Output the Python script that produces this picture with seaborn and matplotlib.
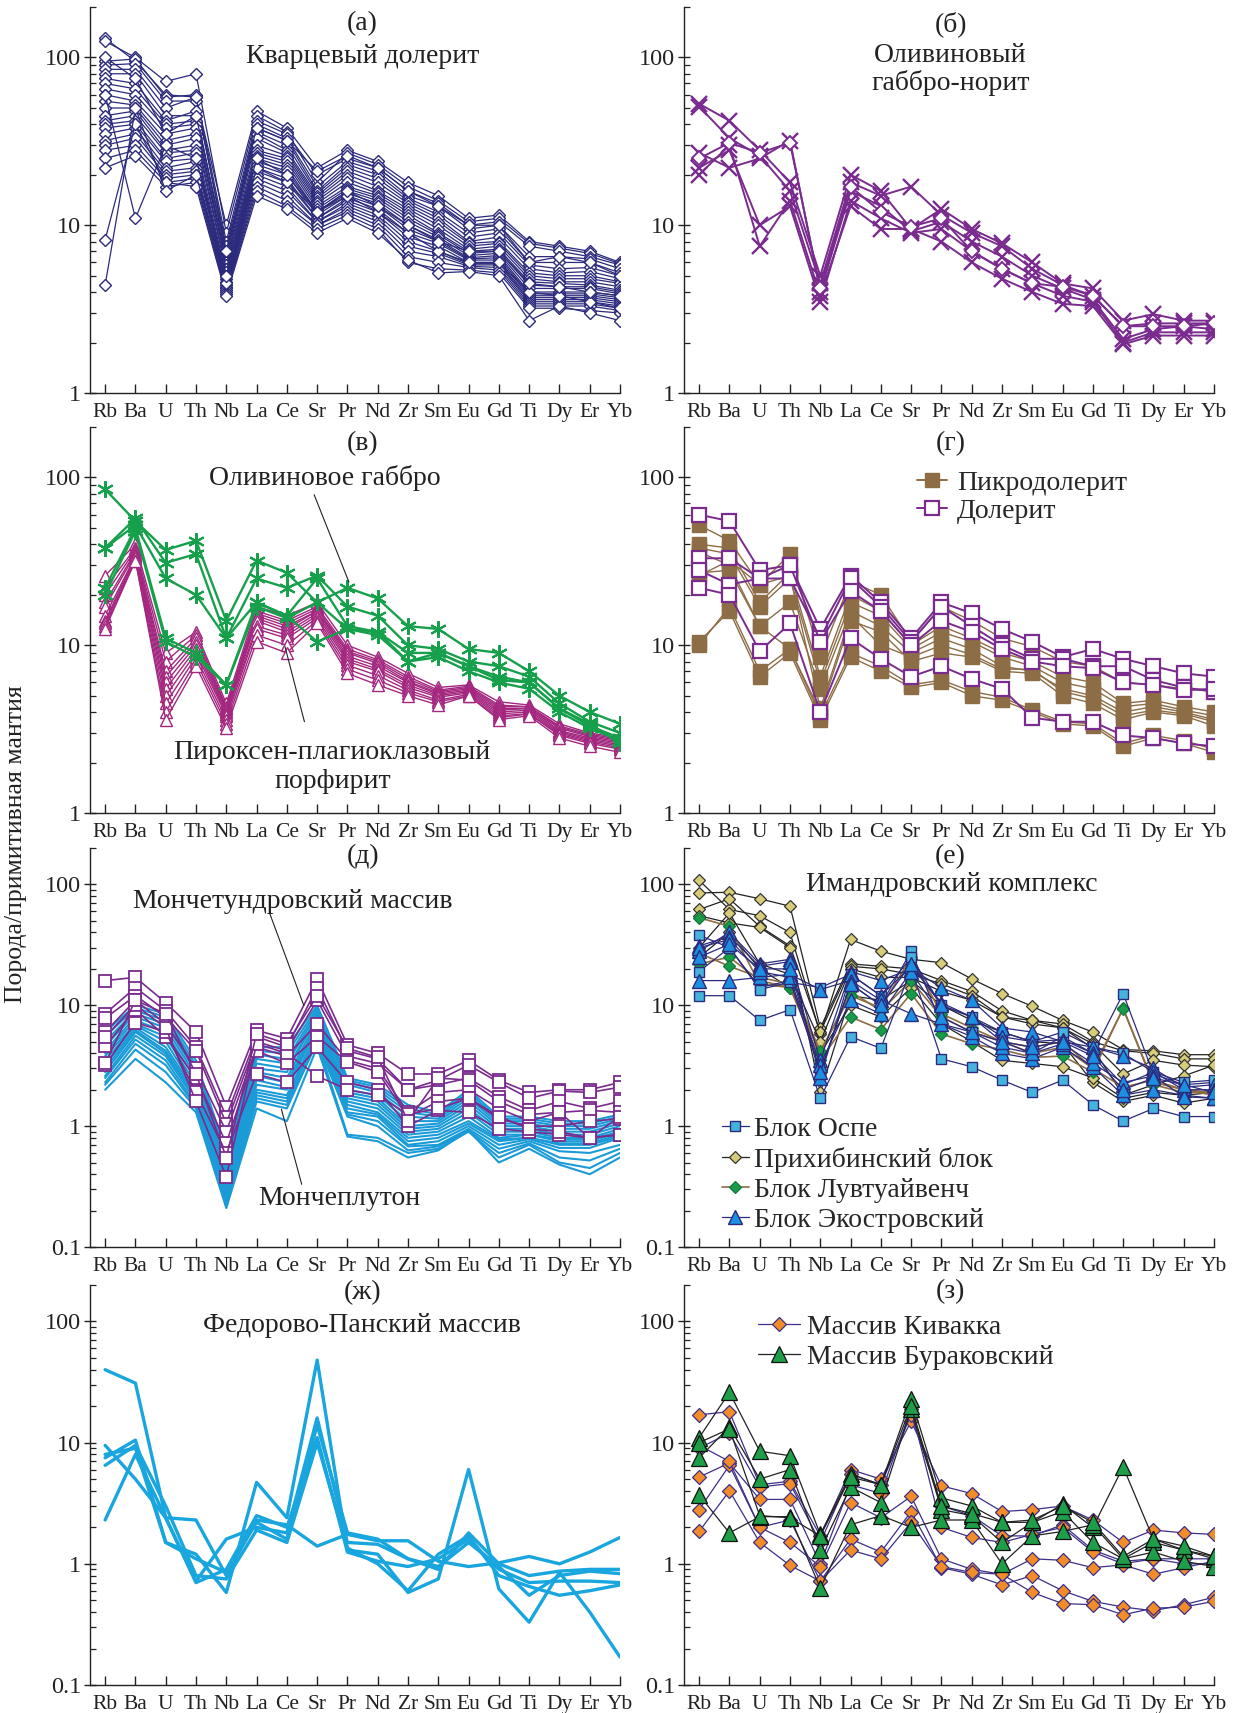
import pandas as pd
import matplotlib
matplotlib.use("Agg")
import matplotlib.pyplot as plt
from matplotlib.lines import Line2D
from matplotlib.ticker import FixedLocator, FixedFormatter, LogLocator, NullFormatter
import seaborn as sns

sns.set_style("ticks")
plt.rcParams["font.family"] = "serif"
plt.rcParams["font.serif"] = ["Liberation Serif", "DejaVu Serif"]

elements = ["Rb", "Ba", "U", "Th", "Nb", "La", "Ce", "Sr", "Pr", "Nd",
            "Zr", "Sm", "Eu", "Gd", "Ti", "Dy", "Er", "Yb"]

# (а) quartz dolerite
quartz_dolerite = [
    [130, 95, 60, 58, 10, 48, 38, 22, 28, 24, 18, 15, 11, 11.5, 8, 7.5, 7, 6],
    [125, 100, 72, 80, 9, 45, 36, 18, 27, 23, 17, 14, 10.5, 11, 7.8, 7.3, 6.8, 5.9],
    [95, 98, 58, 60, 8, 42, 35, 20, 25, 22, 16, 13.5, 10, 10.5, 7.5, 7, 6.5, 5.8],
    [90, 92, 55, 55, 7.5, 40, 33, 17, 24, 21, 15, 13, 9.5, 10, 6.5, 6.5, 6.3, 5.5],
    [85, 85, 50, 58, 7, 38, 32, 16, 23, 20, 14.5, 12, 9, 9.5, 6, 6, 6, 5.2],
    [80, 80, 45, 45, 6.8, 36, 30, 15.5, 22, 19, 14, 11.5, 8.5, 9, 5.8, 5.5, 5.6, 5],
    [75, 70, 42, 48, 6.5, 35, 28, 15, 21, 18, 13.5, 11, 8, 8.5, 5.5, 5.2, 5.3, 4.8],
    [70, 65, 40, 42, 6.2, 33, 27, 14.5, 20, 17, 13, 10.5, 7.8, 8, 5.2, 5, 5, 4.6],
    [65, 60, 38, 40, 6, 30, 26, 14, 19, 16, 12.5, 10, 7.5, 7.8, 5, 4.8, 4.8, 4.5],
    [60, 55, 35, 38, 5.8, 28, 25, 13.5, 18, 15.5, 12, 9.5, 7.2, 7.5, 4.8, 4.6, 4.6, 4.3],
    [55, 52, 32, 35, 5.5, 27, 24, 13, 17, 15, 11.5, 9, 7, 7.2, 4.6, 4.5, 4.4, 4.1],
    [50, 50, 30, 33, 5.3, 26, 23, 12.5, 16.5, 14.5, 11, 8.8, 6.8, 7, 4.4, 4.3, 4.3, 4],
    [45, 48, 28, 30, 5, 25, 22, 12, 16, 14, 10.5, 8.5, 6.6, 6.8, 4.2, 4.2, 4.2, 3.9],
    [42, 45, 27, 28, 4.8, 24, 21, 12, 15.5, 13.5, 10, 8.2, 6.4, 6.6, 4, 4, 4, 3.8],
    [40, 42, 25, 27, 4.6, 23, 20, 11.5, 15, 13, 9.5, 8, 6.3, 6.4, 3.9, 3.9, 3.9, 3.7],
    [38, 40, 24, 25, 4.5, 22, 19, 11, 14.5, 12.5, 9, 7.8, 6.2, 6.2, 3.8, 3.8, 3.8, 3.6],
    [35, 38, 22, 24, 4.4, 21, 18, 11, 14, 12, 8.5, 7.5, 6, 6, 3.7, 3.7, 3.7, 3.5],
    [32, 35, 21, 22, 4.3, 20, 17, 10.5, 13.5, 11.5, 8, 7, 5.9, 5.9, 3.6, 3.6, 3.6, 3.4],
    [30, 33, 20, 21, 4.2, 19, 16, 10.5, 13, 11, 7.5, 6.8, 5.8, 5.8, 3.5, 3.5, 3.5, 3.3],
    [28, 30, 19, 20, 4.1, 18, 15, 10, 12.5, 10.5, 7, 6.5, 5.7, 5.6, 3.4, 3.4, 3.4, 3.2],
    [25, 28, 18, 19, 4, 17, 14, 10, 12, 10, 6.5, 6, 5.6, 5.4, 3.3, 3.3, 3.3, 3.1],
    [22, 26, 17, 18, 3.9, 16, 13, 9.5, 11.5, 9.5, 6, 5.5, 5.4, 5.2, 3.2, 3.2, 3.1, 3],
    [8.2, 40, 18, 17, 3.8, 15, 12.5, 9, 11, 9, 6.2, 5.2, 5.3, 5, 2.7, 3.3, 3, 2.7],
    [4.4, 50, 16, 20, 4.5, 22, 18, 12, 15, 12, 9, 7, 6, 6, 4, 3.8, 3.5, 3.2],
    [60, 11, 30, 25, 5, 25, 20, 12, 16, 13, 10, 8, 7, 7, 4.5, 4.3, 4, 3.8],
    [100, 75, 35, 45, 7, 38, 32, 21, 26, 22, 16, 13, 10, 10, 6, 6.5, 6, 5],
]

# (б) olivine gabbro-norite
gabbronorite_x = [
    [53, 42, 28, 18, 5, 20, 16, 9.5, 12.5, 9.5, 7.8, 6, 4.5, 4.2, 2.7, 2.95, 2.7, 2.7],
    [51, 33, 26, 16, 4.5, 18, 15, 17, 11.5, 9, 7.5, 5.5, 4.4, 3.8, 2.5, 2.6, 2.6, 2.6],
    [27, 22, 25, 32, 4, 16, 13, 9.2, 10.5, 8, 6.5, 5, 4.2, 3.6, 2.1, 2.4, 2.5, 2.4],
    [22, 28, 10, 13, 3.5, 14, 11, 9, 9.5, 7, 5.5, 4.5, 3.8, 3.5, 2.0, 2.3, 2.3, 2.3],
    [20, 30, 7.5, 14, 3.8, 13, 9.5, 9.5, 8, 6, 4.8, 4, 3.4, 3.3, 1.95, 2.2, 2.2, 2.2],
]
gabbronorite_d = [
    [25, 31, 27, 31, 4.2, 17, 12, 9.8, 11, 7, 5.5, 4.5, 4.3, 3.8, 2.5, 2.5, 2.5, 2.6],
]

# (в) olivine gabbro and pyroxene-plagioclase porphyrite
olivine_gabbro = [
    [85, 55, 37, 42, 14, 32, 27, 18, 22, 19, 13, 12.5, 9.5, 9, 7, 5, 4, 3.4],
    [38, 57, 31, 35, 11, 25, 22, 26, 17, 15, 10, 9.5, 8, 7.5, 6.5, 4.5, 3.5, 3],
    [38, 52, 25, 20, 11, 18, 15, 25, 13, 12, 9, 9, 7.5, 6.5, 6, 4.2, 3.3, 2.8],
    [22, 50, 11, 9, 5.8, 18, 15, 10.5, 12.5, 12, 8, 8.5, 7, 6, 5.5, 4, 3.2, 2.7],
    [20, 48, 10.5, 8.5, 5.8, 17, 14.5, 18, 12.5, 11.5, 8, 9, 7.5, 6.2, 6, 4.2, 3.4, 2.6],
]
porphyrite = [
    [26, 40, 9, 12, 4.5, 17, 15, 18, 10, 8.5, 6.8, 5.6, 5.8, 4.6, 4.4, 3.4, 3.0, 2.8],
    [22, 38, 8, 11.5, 4.3, 16, 14, 17, 9.5, 8.2, 6.5, 5.4, 5.7, 4.4, 4.3, 3.3, 2.95, 2.75],
    [20, 37, 7, 11, 4.2, 15.5, 13.5, 16.5, 9.2, 8, 6.3, 5.3, 5.6, 4.3, 4.3, 3.25, 2.9, 2.7],
    [18, 36, 6.5, 10.5, 4.1, 15, 13, 16, 9, 7.8, 6.1, 5.2, 5.5, 4.2, 4.2, 3.2, 2.85, 2.65],
    [17, 35, 6, 10, 4, 14.5, 12.5, 16, 8.6, 7.5, 6, 5.1, 5.4, 4.1, 4.2, 3.1, 2.8, 2.6],
    [15, 34, 5.5, 9.5, 3.9, 14, 12, 15.5, 8.3, 7.2, 5.8, 5, 5.3, 4, 4.1, 3.05, 2.75, 2.55],
    [14, 34, 5, 9, 3.8, 13, 11.5, 15, 8, 7, 5.6, 4.9, 5.2, 3.9, 4, 3.0, 2.7, 2.5],
    [13.5, 33, 4.5, 8.5, 3.6, 12.5, 11, 14.5, 7.6, 6.6, 5.4, 4.7, 5.1, 3.8, 3.9, 2.95, 2.65, 2.45],
    [13, 32, 4, 8, 3.4, 11.5, 10, 14, 7.2, 6.2, 5.2, 4.6, 5.0, 3.7, 3.9, 2.9, 2.6, 2.4],
    [12.5, 32, 3.6, 7.5, 3.2, 10.5, 9, 13.5, 6.8, 5.8, 5, 4.4, 5.0, 3.6, 3.8, 2.8, 2.5, 2.3],
]

# (г) picrodolerite and dolerite
picrodolerite = [
    [52, 42, 23, 35, 8.5, 24, 20, 10.5, 17, 14, 11, 9.8, 8, 7.5, 6, 5.8, 5.5, 5.3],
    [40, 38, 18, 27, 6.5, 20, 16, 10, 13, 11, 9, 8, 6.5, 6, 4.5, 4.7, 4.3, 4],
    [38, 35, 17, 25, 6, 18, 15, 9.5, 12, 10.5, 8.5, 7.5, 6, 5.5, 4.3, 4.5, 4.1, 3.8],
    [36, 30, 13, 18, 5.5, 16, 13, 9, 11, 9.5, 7.5, 7, 5.5, 5, 4, 4.3, 4, 3.6],
    [27, 28, 13, 9.5, 4, 14, 12, 8, 9, 8.5, 7, 6.8, 5, 4.5, 3.6, 4, 3.8, 3.3],
    [26, 32, 23, 26, 4.2, 15, 10, 8.5, 10, 8.8, 7.2, 7.2, 5.3, 4.8, 3.8, 4.1, 3.9, 3.5],
    [10.5, 16, 6.5, 9, 3.6, 8.5, 7, 5.6, 6, 5, 4.7, 4, 3.4, 3.3, 2.5, 2.8, 2.6, 2.3],
    [10, 17, 7, 9.5, 3.8, 9, 7.5, 5.8, 6.2, 5.3, 4.9, 4.1, 3.5, 3.4, 2.6, 2.9, 2.7, 2.4],
]
dolerite = [
    [60, 55, 28, 30, 12.5, 26, 18, 11, 18, 15.5, 12.5, 10.5, 8.5, 9.5, 8.3, 7.5, 6.8, 6.5],
    [33, 33, 25, 25, 11, 25, 17, 10.5, 17, 13, 10, 8.3, 8.3, 7.5, 7.5, 6.2, 5.6, 5.3],
    [28, 23, 25, 30, 10.5, 21, 16, 10, 14, 12, 9.5, 8, 7.5, 7.3, 6, 5.8, 5.4, 5.5],
    [22, 20, 9.2, 13.5, 4, 11, 8.3, 6.5, 7.5, 6.3, 5.5, 3.7, 3.5, 3.5, 2.9, 2.8, 2.6, 2.5],
]

# (д) Monchetundra massif and Monchepluton
monchetundra = [
    [16, 17, 10.5, 6, 1.45, 6.2, 5.3, 16.5, 4.7, 4.0, 2.7, 2.7, 3.5, 2.4, 1.9, 2.0, 2.0, 2.3],
    [8.5, 14, 9, 4.5, 1.2, 5.5, 4.5, 14, 4.2, 3.6, 2.0, 2.4, 3.2, 2.3, 1.7, 1.95, 1.9, 2.1],
    [7.8, 12, 8, 4.2, 1.05, 5, 4.2, 11, 3.8, 3.3, 2.0, 2.2, 2.5, 1.75, 1.35, 1.6, 1.4, 1.6],
    [6, 11, 7, 3, 0.9, 4.5, 3.8, 7, 3.5, 3.0, 1.3, 1.9, 2.0, 1.4, 1.1, 1.3, 1.35, 1.3],
    [4.6, 9.2, 5.5, 2.5, 0.72, 4.2, 3.3, 5.5, 3.4, 2.8, 1.2, 1.6, 1.7, 1.15, 1.0, 1.0, 1.1, 1.15],
    [3.2, 7.2, 6, 1.9, 0.6, 2.7, 2.3, 4.5, 2.3, 2.0, 1.0, 1.35, 1.3, 0.95, 0.9, 0.85, 0.8, 0.85],
    [5.5, 10, 6.5, 1.6, 0.38, 4.8, 4.0, 2.6, 2.0, 1.8, 1.25, 1.4, 1.7, 1.2, 0.95, 0.9, 0.8, 0.85],
    [3.3, 11, 8.5, 2.7, 0.55, 5.8, 4.8, 12, 4.4, 3.7, 1.1, 2.5, 2.4, 1.6, 1.25, 1.3, 0.8, 1.2],
]
monchepluton = [
    [6, 10, 8.5, 3.5, 0.6, 4.5, 4.5, 10, 2.5, 2.2, 1.5, 1.3, 2.0, 1.2, 1.2, 1.1, 1.1, 1.25],
    [5.5, 9.5, 8, 3.2, 0.55, 4.2, 4.0, 9.5, 2.4, 2.1, 1.4, 1.25, 1.9, 1.15, 1.15, 1.05, 1.05, 1.2],
    [5, 9, 7.5, 3.0, 0.5, 3.9, 3.6, 9, 2.3, 2.0, 1.3, 1.2, 1.8, 1.1, 1.1, 1.0, 1.0, 1.15],
    [4.6, 8.5, 7, 2.8, 0.47, 3.6, 3.3, 8.5, 2.2, 1.9, 1.2, 1.15, 1.7, 1.05, 1.05, 0.95, 0.95, 1.1],
    [4.2, 8, 6.5, 2.6, 0.44, 3.3, 3.0, 8, 2.0, 1.8, 1.1, 1.1, 1.6, 1.0, 1.0, 0.9, 0.9, 1.05],
    [4.0, 7.5, 6, 2.4, 0.41, 3.0, 2.8, 8, 1.9, 1.7, 1.0, 1.05, 1.5, 0.95, 0.95, 0.85, 0.85, 1.0],
    [3.8, 7, 5.5, 2.2, 0.38, 2.8, 2.5, 7.5, 1.8, 1.6, 0.95, 1.0, 1.4, 0.9, 0.9, 0.8, 0.8, 0.95],
    [3.5, 6.8, 5, 2.0, 0.35, 2.6, 2.3, 7, 1.7, 1.5, 0.9, 0.95, 1.3, 0.85, 0.85, 0.78, 0.78, 0.9],
    [3.2, 6.5, 4.5, 1.9, 0.33, 2.4, 2.1, 7, 1.6, 1.4, 0.85, 0.9, 1.2, 0.8, 0.85, 0.75, 0.75, 0.88],
    [3.0, 6.2, 4.2, 1.8, 0.31, 2.2, 2.0, 6.5, 1.5, 1.3, 0.8, 0.85, 1.1, 0.78, 0.8, 0.72, 0.72, 0.85],
    [2.8, 6, 4.0, 1.7, 0.29, 2.0, 1.8, 6, 1.4, 1.25, 0.75, 0.8, 1.05, 0.75, 0.8, 0.7, 0.7, 0.82],
    [2.6, 5.6, 3.8, 1.6, 0.27, 1.9, 1.7, 6, 1.3, 1.2, 0.7, 0.75, 1.0, 0.7, 0.78, 0.66, 0.66, 0.8],
    [2.5, 5.2, 3.5, 1.5, 0.25, 1.8, 1.6, 5.5, 1.25, 1.1, 0.68, 0.7, 0.95, 0.65, 0.75, 0.62, 0.6, 0.7],
    [2.3, 4.8, 3.2, 1.45, 0.23, 1.7, 1.5, 5, 1.2, 1.0, 0.63, 0.68, 0.92, 0.6, 0.72, 0.55, 0.52, 0.65],
    [2.2, 4.3, 2.8, 1.4, 0.22, 1.6, 1.4, 5, 0.85, 0.8, 0.6, 0.65, 0.9, 0.55, 0.7, 0.5, 0.45, 0.6],
    [2.0, 3.6, 2.3, 1.3, 0.21, 1.4, 1.1, 4.5, 0.82, 0.75, 0.55, 0.63, 0.92, 0.5, 0.65, 0.48, 0.4, 0.55],
]

# (е) Imandra complex blocks
block_ospe = [
    [12, 12, 7.5, 9.2, 1.7, 5.5, 4.4, 20, 3.6, 3.1, 2.4, 1.9, 2.4, 1.5, 1.1, 1.4, 1.2, 1.2],
    [38, 30, 14, 16, 2.8, 15, 10, 28, 7, 6, 5, 4, 5.5, 4, 12.5, 2.7, 2.2, 2.3],
    [19, 30, 13.5, 15.5, 14, 18, 12, 25, 10, 8, 6, 5, 6, 4.5, 4, 2.8, 2.3, 2.4],
]
block_prikhibinsky = [
    [108, 62, 55, 40, 5.8, 35, 28, 24, 22.5, 16.5, 12.5, 9.8, 7.5, 6, 4.3, 4.2, 3.9, 3.9],
    [85, 86, 76, 66, 6.5, 22, 21, 20, 16, 13, 9, 7.5, 7, 5, 4.2, 4, 3.6, 3.6],
    [62, 76, 45, 31, 6, 21, 20, 18, 15, 12, 8, 7, 6.5, 4.8, 2.7, 3.5, 3.2, 3.1],
    [55, 48, 44, 30, 1.9, 12, 11, 16, 10, 7.5, 6, 5, 4.8, 2.3, 1.6, 1.8, 1.55, 1.7],
    [30, 58, 22, 18, 5, 20, 17, 17, 13, 11, 8, 7.5, 6.5, 4.4, 1.8, 2.2, 2.6, 3.2],
    [25, 40, 20, 14, 4, 10, 8, 14, 7, 5, 3.5, 3.3, 3.1, 2.5, 1.7, 1.9, 1.8, 1.9],
]
block_luvtuaivench = [
    [53, 45, 15, 14, 3.5, 8, 6.3, 12.5, 5.8, 4.8, 4.3, 3.7, 3.8, 2.8, 9.5, 2.2, 1.9, 1.9],
    [22, 25, 16, 14, 4, 13, 9, 16, 8, 6, 5, 4, 4.5, 3, 9.3, 2.3, 2.0, 1.9],
    [27, 21, 17, 15, 4.2, 12, 9.5, 25, 8.5, 6.5, 5, 4.5, 5, 3, 2.1, 2.4, 2.0, 1.8],
]
block_ekostrovsky = [
    [28, 40, 22, 24, 3.5, 19, 16, 20, 14, 11, 6.5, 6, 5, 4.5, 3.8, 3, 2.1, 2.2],
    [31, 37, 21, 23, 2.5, 18, 12, 21, 10.5, 8, 5.5, 5, 5.2, 4, 2.2, 2.8, 2.0, 2.0],
    [16, 16, 17, 18, 13.5, 16, 11, 8.5, 7, 5.5, 4, 3.6, 4.5, 3.1, 1.8, 2.0, 1.8, 1.7],
    [30, 35, 19, 17, 3.2, 11, 8.5, 19, 8, 6, 4.5, 4, 4.8, 3.3, 2.3, 2.6, 1.75, 1.7],
    [25, 32, 20, 20, 2.8, 15, 10, 22, 10, 8, 5, 4.5, 5, 3.8, 2.0, 2.5, 2.2, 1.9],
]

# (ж) Fedorovo-Pansky massif
fedorovo_pansky = [
    [40, 31, 2.4, 2.3, 0.8, 2.3, 2.1, 1.4, 1.75, 1.55, 1.55, 1.05, 0.95, 1.02, 1.15, 1.0, 1.25, 1.65],
    [8, 9, 1.5, 1.2, 0.58, 4.7, 2.4, 48, 1.3, 1.2, 0.58, 0.75, 6, 0.62, 0.33, 0.85, 0.4, 0.17],
    [2.3, 8, 2.4, 0.72, 1.6, 2.0, 1.8, 16, 1.5, 1.45, 1.1, 0.9, 1.8, 1.0, 0.8, 0.87, 0.9, 0.9],
    [9.5, 5, 2.4, 0.7, 0.9, 2.5, 2.0, 11, 1.25, 1.05, 0.95, 1.1, 1.6, 0.9, 0.7, 0.72, 0.72, 0.7],
    [7.5, 10.5, 1.5, 1.1, 0.85, 2.2, 1.6, 14, 1.8, 1.6, 1.1, 0.95, 1.5, 0.95, 0.55, 0.8, 0.87, 0.83],
    [6.5, 9.5, 3.0, 0.8, 0.75, 1.9, 1.5, 10, 1.35, 1.0, 0.6, 1.2, 1.7, 0.8, 0.65, 0.55, 0.6, 0.67],
]

# (з) Kivakka and Burakovsky massifs
kivakka = [
    [17, 18, 4.5, 4.8, 1.7, 6, 5, 15, 4.4, 3.8, 2.7, 2.8, 3.0, 2.3, 1.5, 1.9, 1.8, 1.75],
    [9, 12, 4.3, 4.6, 1.5, 5.5, 4.5, 17, 3.0, 2.5, 1.7, 1.7, 2.1, 1.3, 1.05, 1.1, 1.1, 1.1],
    [5.2, 6.8, 3.4, 3.4, 1.0, 4.5, 3.8, 19, 2.0, 1.65, 1.5, 1.75, 2.0, 1.25, 1.0, 1.1, 1.0, 1.0],
    [2.8, 6.5, 2.0, 1.5, 0.95, 3.2, 2.4, 3.6, 1.1, 0.9, 0.82, 1.1, 1.07, 0.93, 0.98, 0.82, 0.93, 1.05],
    [1.85, 4.0, 1.5, 0.97, 0.72, 1.6, 1.25, 2.7, 0.93, 0.82, 0.67, 0.8, 0.6, 0.49, 0.44, 0.41, 0.46, 0.53],
    [9.5, 7, 2.0, 2.3, 0.72, 1.3, 1.1, 2.2, 0.95, 0.85, 0.82, 0.58, 0.47, 0.46, 0.38, 0.43, 0.44, 0.49],
]
burakovsky = [
    [11, 26, 8.5, 7.8, 1.75, 5.5, 4.5, 23, 3.5, 3.0, 2.2, 2.2, 3.1, 2.0, 6.3, 1.6, 1.3, 1.15],
    [7.5, 13.5, 5, 6, 1.3, 4.3, 3.2, 19, 2.8, 2.5, 1.5, 2.2, 2.7, 1.5, 1.1, 1.5, 1.3, 1.1],
    [3.7, 1.8, 2.45, 2.45, 0.63, 2.1, 2.5, 2.0, 2.3, 2.3, 1.0, 1.7, 1.85, 2.1, 1.1, 1.25, 1.05, 0.95],
    [10, 13, 2.5, 2.4, 1.7, 5.2, 4.5, 20, 3.0, 2.6, 2.2, 2.3, 3.0, 2.2, 1.15, 1.6, 1.4, 1.15],
]

NAVY = "#2b2a7c"
PURPLE = "#7a2b8e"
GREEN = "#17a04c"
MAGENTA = "#a3267f"
BROWN = "#8c6d46"
CYAN = "#1a9bd7"

W, H = 1238, 1713
fig = plt.figure(figsize=(W / 100, H / 100), dpi=100)


def axes_at(x0, x1, y0, y1):
    return fig.add_axes([x0 / W, 1 - y1 / H, (x1 - x0) / W, (y1 - y0) / H])


def long_form(rows):
    recs = [(j, v, i) for i, r in enumerate(rows) for j, v in enumerate(r)]
    return pd.DataFrame(recs, columns=["pos", "value", "sample"])


def draw(ax, rows, color, marker=None, mfc="white", mec=None, ms=6, lw=0.9, mew=1.0, z=2):
    kw = dict(color=color, linewidth=lw, zorder=z)
    if marker is not None:
        kw.update(marker=marker, markerfacecolor=mfc, markeredgecolor=mec or color,
                  markersize=ms, markeredgewidth=mew)
    sns.lineplot(data=long_form(rows), x="pos", y="value", units="sample",
                 estimator=None, sort=False, legend=False, ax=ax, **kw)


def style_axis(ax, ymin):
    ax.set_yscale("log")
    ax.set_xlim(-0.5, 17)
    ax.set_ylim(ymin, 200)
    ax.set_xlabel("")
    ax.set_ylabel("")
    ax.set_xticks(range(len(elements)))
    ax.set_xticklabels(elements, fontsize=15.5)
    majors = [v for v in (0.1, 1, 10, 100) if v >= ymin]
    ax.yaxis.set_major_locator(FixedLocator(majors))
    ax.yaxis.set_major_formatter(FixedFormatter([f"{v:g}" for v in majors]))
    ax.yaxis.set_minor_locator(LogLocator(base=10, subs=range(2, 10)))
    ax.yaxis.set_minor_formatter(NullFormatter())
    for s in ("top", "right"):
        ax.spines[s].set_visible(False)
    for s in ("left", "bottom"):
        ax.spines[s].set_linewidth(1.0)
        ax.spines[s].set_color("#222")
    ax.tick_params(axis="x", which="major", direction="in", length=6.5, width=1,
                   pad=7, colors="#222")
    ax.tick_params(axis="x", which="minor", bottom=False)
    ax.tick_params(axis="y", which="major", direction="inout", length=9, width=1,
                   labelsize=17.5, pad=2, colors="#222")
    ax.tick_params(axis="y", which="minor", direction="in", length=4.5, width=0.9,
                   colors="#222")


LX0, LX1 = 90, 620
RX0, RX1 = 684, 1214
rows_px = [(7, 393), (427, 813), (848, 1247), (1285, 1685)]

ax_a = axes_at(LX0, LX1, *rows_px[0])
ax_b = axes_at(RX0, RX1, *rows_px[0])
ax_v = axes_at(LX0, LX1, *rows_px[1])
ax_g = axes_at(RX0, RX1, *rows_px[1])
ax_d = axes_at(LX0, LX1, *rows_px[2])
ax_e = axes_at(RX0, RX1, *rows_px[2])
ax_zh = axes_at(LX0, LX1, *rows_px[3])
ax_z = axes_at(RX0, RX1, *rows_px[3])

for ax, ymin in ((ax_a, 1), (ax_b, 1), (ax_v, 1), (ax_g, 1),
                 (ax_d, 0.1), (ax_e, 0.1), (ax_zh, 0.1), (ax_z, 0.1)):
    ax.set_yscale("log")
    ax.set_ylim(ymin, 200)

TXT = dict(ha="center", va="center", fontsize=20, color="#222")
LET = dict(ha="center", va="center", fontsize=20, color="#222")
LEG = dict(loc="upper left", frameon=False, borderpad=0, borderaxespad=0, fontsize=20)

# (а)
draw(ax_a, quartz_dolerite, NAVY, marker="D", ms=6.3, lw=0.9)
ax_a.text(8.5, 159, "(а)", **LET)
ax_a.text(8.5, 101, "Кварцевый долерит", **TXT)

# (б)
draw(ax_b, gabbronorite_x, PURPLE, marker="x", ms=11, lw=1.4, mew=1.7)
draw(ax_b, gabbronorite_d, PURPLE, marker="D", ms=7, lw=1.4, mew=1.4)
ax_b.text(8.3, 159, "(б)", **LET)
ax_b.text(8.3, 103, "Оливиновый", **TXT)
ax_b.text(8.3, 70, "габбро-норит", **TXT)

# (в)
draw(ax_v, porphyrite, MAGENTA, marker="^", ms=8.5, lw=1.0, mew=1.0)
draw(ax_v, olivine_gabbro, GREEN, marker=(6, 2, 0), ms=12, lw=1.7, mew=1.5, z=3)
ax_v.text(8.5, 159, "(в)", **LET)
ax_v.text(7.24, 99, "Оливиновое габбро", **TXT)
ax_v.annotate("", xy=(8.05, 23.8), xytext=(6.9, 79),
              arrowprops=dict(arrowstyle="-", color="#222", lw=0.8, shrinkA=0, shrinkB=0))
ax_v.text(7.5, 2.3, "Пироксен-плагиоклазовый", **TXT)
ax_v.text(7.5, 1.55, "порфирит", **TXT)
ax_v.annotate("", xy=(6.58, 3.5), xytext=(5.94, 9.8),
              arrowprops=dict(arrowstyle="-", color="#222", lw=0.8, shrinkA=0, shrinkB=0))

# (г)
draw(ax_g, picrodolerite, BROWN, marker="s", mfc=BROWN, ms=9.5, lw=1.0, mew=1.0)
draw(ax_g, dolerite, PURPLE, marker="s", mfc="white", ms=9.5, lw=1.4, mew=1.6, z=3)
ax_g.text(8.3, 159, "(г)", **LET)
h_g = [Line2D([], [], color=BROWN, marker="s", mfc=BROWN, mec=BROWN, ms=9.5, lw=1.4),
       Line2D([], [], color=PURPLE, marker="s", mfc="white", mec=PURPLE, ms=9.5, mew=1.6, lw=1.4)]
ax_g.legend(h_g, ["Пикродолерит", "Долерит"], bbox_to_anchor=(0.439, 0.888),
            handlelength=1.1, handletextpad=0.35, labelspacing=0.11, **LEG)

# (д)
draw(ax_d, monchepluton, CYAN, lw=1.5)
draw(ax_d, monchetundra, PURPLE, marker="s", ms=8.8, lw=1.2, mew=1.3, z=3)
ax_d.text(8.5, 170, "(д)", **LET)
ax_d.text(6.19, 72, "Мончетундровский массив", **TXT)
ax_d.annotate("", xy=(6.56, 9.95), xytext=(5.44, 57),
              arrowprops=dict(arrowstyle="-", color="#222", lw=0.8, shrinkA=0, shrinkB=0))
ax_d.text(7.73, 0.25, "Мончеплутон", **TXT)
ax_d.annotate("", xy=(6.49, 0.33), xytext=(5.82, 1.38),
              arrowprops=dict(arrowstyle="-", color="#222", lw=0.8, shrinkA=0, shrinkB=0))

# (е)
E_OSPE = dict(color=NAVY, marker="s", mfc="#45b3dc", mec=NAVY, ms=7.5, lw=0.9, mew=1.0)
E_PRIKH = dict(color="#222", marker="D", mfc="#d6cc7a", mec="#333", ms=6.5, lw=0.9, mew=0.9)
E_LUV = dict(color=BROWN, marker="D", mfc="#179a4a", mec="#137a3a", ms=6.5, lw=1.2, mew=0.9)
E_EKO = dict(color=NAVY, marker="^", mfc="#1c8fe0", mec=NAVY, ms=10, lw=0.9, mew=1.0)
draw(ax_e, block_prikhibinsky, E_PRIKH["color"], marker="D", mfc=E_PRIKH["mfc"],
     mec=E_PRIKH["mec"], ms=E_PRIKH["ms"], lw=0.9, mew=0.9)
draw(ax_e, block_luvtuaivench, E_LUV["color"], marker="D", mfc=E_LUV["mfc"],
     mec=E_LUV["mec"], ms=E_LUV["ms"], lw=1.2, mew=0.9)
draw(ax_e, block_ospe, NAVY, marker="s", mfc=E_OSPE["mfc"], mec=NAVY, ms=E_OSPE["ms"],
     lw=0.9, mew=1.0)
draw(ax_e, block_ekostrovsky, NAVY, marker="^", mfc=E_EKO["mfc"], mec=NAVY, ms=E_EKO["ms"],
     lw=0.9, mew=1.0)
ax_e.text(8.3, 170, "(е)", **LET)
ax_e.text(8.33, 100, "Имандровский комплекс", **TXT)
h_e = [Line2D([], [], **s) for s in (E_OSPE, E_PRIKH, E_LUV, E_EKO)]
ax_e.legend(h_e, ["Блок Оспе", "Прихибинский блок", "Блок Лувтуайвенч", "Блок Экостровский"],
            bbox_to_anchor=(0.072, 0.327), handlelength=0.96, handletextpad=0.2,
            labelspacing=0.17, **LEG)

# (ж)
draw(ax_zh, fedorovo_pansky, "#19a5de", lw=2.4)
ax_zh.text(8.5, 172, "(ж)", **LET)
ax_zh.text(8.47, 92, "Федорово-Панский массив", **TXT)

# (з)
Z_KIV = dict(color="#3d2f8a", marker="D", mfc="#f28c28", mec="#3d2f8a", ms=7, lw=0.9, mew=0.9)
Z_BUR = dict(color="#222", marker="^", mfc="#1f9e4a", mec="#111", ms=11, lw=0.9, mew=0.9)
draw(ax_z, kivakka, Z_KIV["color"], marker="D", mfc=Z_KIV["mfc"], mec=Z_KIV["mec"],
     ms=Z_KIV["ms"], lw=0.9, mew=0.9)
draw(ax_z, burakovsky, Z_BUR["color"], marker="^", mfc=Z_BUR["mfc"], mec=Z_BUR["mec"],
     ms=Z_BUR["ms"], lw=0.9, mew=0.9, z=3)
ax_z.text(8.3, 177, "(з)", **LET)
h_z = [Line2D([], [], **Z_KIV), Line2D([], [], **Z_BUR)]
ax_z.legend(h_z, ["Массив Кивакка", "Массив Бураковский"], bbox_to_anchor=(0.14, 0.926),
            handlelength=1.5, handletextpad=0.27, labelspacing=0.15, **LEG)

for ax, ymin in ((ax_a, 1), (ax_b, 1), (ax_v, 1), (ax_g, 1),
                 (ax_d, 0.1), (ax_e, 0.1), (ax_zh, 0.1), (ax_z, 0.1)):
    style_axis(ax, ymin)

fig.text(16 / W, 1 - 844 / H, "Порода/примитивная мантия", rotation=90,
         ha="center", va="center", fontsize=18.5, color="#222")

fig.savefig("out.png", dpi=100)
